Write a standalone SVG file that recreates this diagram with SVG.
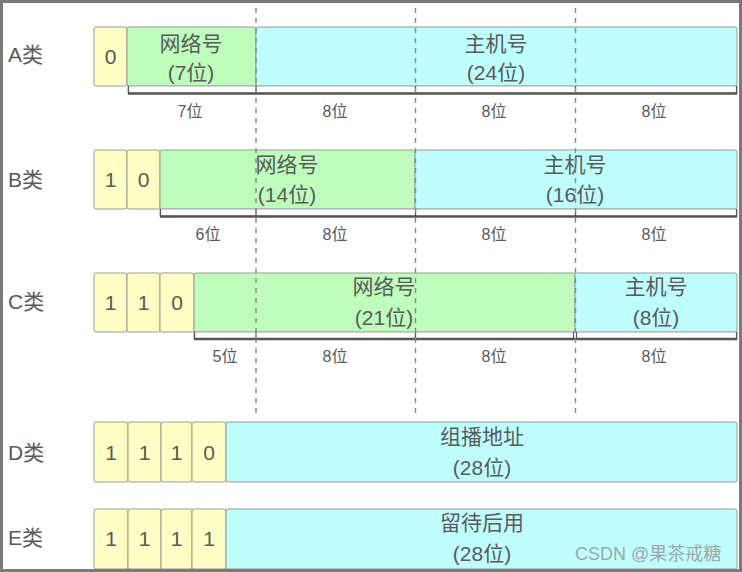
<svg xmlns="http://www.w3.org/2000/svg" width="742" height="572" viewBox="0 0 742 572">
<style>
text{font-family:"Liberation Sans","Noto Sans CJK SC",sans-serif;fill:#5a5a5a;text-anchor:middle}
.lbl{font-size:21px;text-anchor:start}
.big{font-size:21px}
.dig{font-size:21px}
.sm{font-size:16px}
.y{fill:#FFFEC4;stroke:#9a9a9a;stroke-width:1}
.g{fill:#BEFDBC;stroke:#9a9a9a;stroke-width:1}
.c{fill:#BFFEFF;stroke:#9a9a9a;stroke-width:1}
.br{fill:#fff;stroke:#aaa;stroke-width:1}
.bl{stroke:#555;stroke-width:2.5;fill:none}
.tk{stroke:#555;stroke-width:1.2;fill:none}
.dash{stroke:#888;stroke-width:1.4;stroke-dasharray:5,5;fill:none}
.wm{font-size:18px;fill:#999;opacity:0.85;text-anchor:start}
</style>
<rect x="1.5" y="1.5" width="739" height="569" fill="#fff" stroke="#7a7a7a" stroke-width="3"/>

<g id="rowA">
<text class="lbl" x="8" y="62">A类</text>
<rect class="y" x="94" y="27" width="33" height="59" rx="2"/>
<text class="dig" x="110.5" y="64">0</text>
<rect class="g" x="127" y="27" width="129" height="59" rx="2"/>
<text class="big" x="191" y="51">网络号</text>
<text class="big" x="191" y="80">(7位)</text>
<rect class="c" x="256" y="27" width="481" height="59" rx="2"/>
<text class="big" x="496" y="51">主机号</text>
<text class="big" x="496" y="80">(24位)</text>
<rect class="br" x="128" y="86" width="609" height="7"/>
<path class="bl" d="M128,93.5 H737"/>
<path class="tk" d="M128.5,86 V94 M256,86 V94 M415.5,86 V94 M575.5,86 V94 M736.5,86 V94"/>
<text class="sm" x="190" y="117">7位</text>
<text class="sm" x="335" y="117">8位</text>
<text class="sm" x="494" y="117">8位</text>
<text class="sm" x="654" y="117">8位</text>
</g>

<g id="rowB">
<text class="lbl" x="8" y="187">B类</text>
<rect class="y" x="94" y="150" width="33" height="59" rx="2"/>
<text class="dig" x="110.5" y="187">1</text>
<rect class="y" x="127" y="150" width="33" height="59" rx="2"/>
<text class="dig" x="143.5" y="187">0</text>
<rect class="g" x="160" y="150" width="255" height="59" rx="2"/>
<text class="big" x="287" y="172">网络号</text>
<text class="big" x="287" y="202">(14位)</text>
<rect class="c" x="415" y="150" width="322" height="59" rx="2"/>
<text class="big" x="575" y="172">主机号</text>
<text class="big" x="575" y="202">(16位)</text>
<rect class="br" x="160" y="209" width="577" height="7"/>
<path class="bl" d="M160,216.5 H737"/>
<path class="tk" d="M160.5,209 V217 M256,209 V217 M415.5,209 V217 M575.5,209 V217 M736.5,209 V217"/>
<text class="sm" x="208" y="240">6位</text>
<text class="sm" x="335" y="240">8位</text>
<text class="sm" x="494" y="240">8位</text>
<text class="sm" x="654" y="240">8位</text>
</g>

<g id="rowC">
<text class="lbl" x="8" y="309">C类</text>
<rect class="y" x="94" y="273" width="33" height="59" rx="2"/>
<text class="dig" x="110.5" y="310">1</text>
<rect class="y" x="127" y="273" width="33" height="59" rx="2"/>
<text class="dig" x="143.5" y="310">1</text>
<rect class="y" x="160" y="273" width="34" height="59" rx="2"/>
<text class="dig" x="177" y="310">0</text>
<rect class="g" x="194" y="273" width="381" height="59" rx="2"/>
<text class="big" x="384" y="294">网络号</text>
<text class="big" x="384" y="325">(21位)</text>
<rect class="c" x="575" y="273" width="162" height="59" rx="2"/>
<text class="big" x="656" y="294">主机号</text>
<text class="big" x="656" y="325">(8位)</text>
<rect class="br" x="194" y="332" width="543" height="7"/>
<path class="bl" d="M194,339 H737"/>
<path class="tk" d="M194.5,332 V340 M256,332 V340 M415.5,332 V340 M573.5,332 V340 M576.5,332 V340 M736.5,332 V340"/>
<text class="sm" x="225" y="362">5位</text>
<text class="sm" x="335" y="362">8位</text>
<text class="sm" x="494" y="362">8位</text>
<text class="sm" x="654" y="362">8位</text>
</g>

<g id="connectors">
<path class="dash" d="M256,8 V414 M415.5,8 V414 M575.5,8 V414"/>
</g>

<g id="rowD">
<text class="lbl" x="8" y="460">D类</text>
<rect class="y" x="94" y="422" width="34" height="60" rx="2"/>
<text class="dig" x="111" y="460">1</text>
<rect class="y" x="128" y="422" width="33" height="60" rx="2"/>
<text class="dig" x="144.5" y="460">1</text>
<rect class="y" x="161" y="422" width="31" height="60" rx="2"/>
<text class="dig" x="176.5" y="460">1</text>
<rect class="y" x="192" y="422" width="34" height="60" rx="2"/>
<text class="dig" x="209" y="460">0</text>
<rect class="c" x="226" y="422" width="511" height="60" rx="2"/>
<text class="big" x="482" y="444">组播地址</text>
<text class="big" x="482" y="475">(28位)</text>
</g>

<g id="rowE">
<text class="lbl" x="8" y="545">E类</text>
<rect class="y" x="94" y="509" width="34" height="60" rx="2"/>
<text class="dig" x="111" y="546">1</text>
<rect class="y" x="128" y="509" width="33" height="60" rx="2"/>
<text class="dig" x="144.5" y="546">1</text>
<rect class="y" x="161" y="509" width="31" height="60" rx="2"/>
<text class="dig" x="176.5" y="546">1</text>
<rect class="y" x="192" y="509" width="34" height="60" rx="2"/>
<text class="dig" x="209" y="546">1</text>
<rect class="c" x="226" y="509" width="511" height="60" rx="2"/>
<text class="big" x="482" y="530">留待后用</text>
<text class="big" x="482" y="561">(28位)</text>
<text class="wm" x="575" y="560">CSDN @果茶戒糖</text>
</g>
<path d="M0,570.5 H742" stroke="#7a7a7a" stroke-width="3"/>
</svg>
